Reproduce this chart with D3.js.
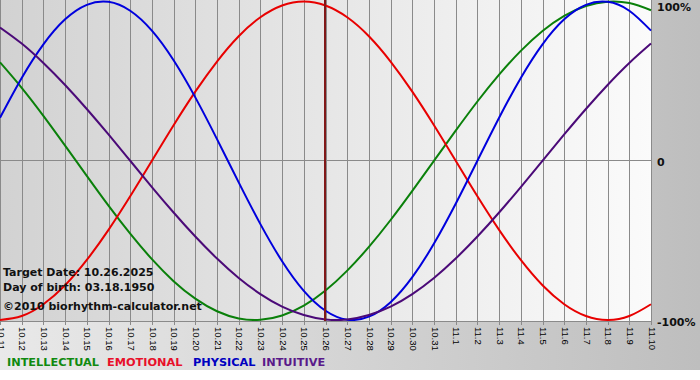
<!DOCTYPE html>
<html><head><meta charset="utf-8">
<script src="https://cdn.jsdelivr.net/npm/d3@7"></script>
<style>html,body{margin:0;padding:0;background:#fff;} svg{display:block;}</style>
</head><body>
<svg id="c" width="700" height="380"></svg>
<script>
// ---- data ----
const dayLabels = ["10.11","10.12","10.13","10.14","10.15","10.16","10.17","10.18","10.19","10.20",
  "10.21","10.22","10.23","10.24","10.25","10.26","10.27","10.28","10.29","10.30","10.31",
  "11.1","11.2","11.3","11.4","11.5","11.6","11.7","11.8","11.9","11.10"];
const intellectual = [0.618,0.458,0.282,0.095,-0.095,-0.282,-0.458,-0.618,-0.756,-0.866,-0.945,-0.990,-0.999,-0.972,-0.910,-0.815,
  -0.690,-0.541,-0.372,-0.189,0.000,0.189,0.372,0.541,0.690,0.815,0.910,0.972,0.999,0.990,0.945];
const emotional = [-1.000,-0.975,-0.901,-0.782,-0.623,-0.434,-0.223,0.000,0.223,0.434,0.623,0.782,0.901,0.975,1.000,0.975,
  0.901,0.782,0.623,0.434,0.223,0.000,-0.223,-0.434,-0.623,-0.782,-0.901,-0.975,-1.000,-0.975,-0.901];
const physical = [0.270,0.520,0.731,0.888,0.979,0.998,0.942,0.817,0.631,0.398,0.136,-0.136,-0.398,-0.631,-0.817,-0.942,
  -0.998,-0.979,-0.888,-0.731,-0.520,-0.270,0.000,0.270,0.520,0.731,0.888,0.979,0.998,0.942,0.817];
const intuitive = [0.837,0.736,0.614,0.476,0.325,0.165,0.000,-0.165,-0.325,-0.476,-0.614,-0.736,-0.837,-0.916,-0.969,-0.997,
  -0.997,-0.969,-0.916,-0.837,-0.736,-0.614,-0.476,-0.325,-0.165,0.000,0.165,0.325,0.476,0.614,0.736];
const yTickValues = [1, 0, -1];
const yTickLabels = ["100%", "0", "-100%"];
const targetDay = "10.26";
const infoLines = ["Target Date: 10.26.2025", "Day of birth: 03.18.1950", "\u00A92010 biorhythm-calculator.net"];
const seriesNames = ["INTELLECTUAL", "EMOTIONAL", "PHYSICAL", "INTUITIVE"];

// ---- styles / layout ----
const seriesData = [intellectual, emotional, physical, intuitive];
const lineColors = ["#0a800a", "#e80000", "#0000dd", "#4b0a78"];
const legendColors = ["#108a10", "#e8102a", "#0000c0", "#5a1a8a"];
const legendX = [7, 107, 193, 262];
const plotW = 651, plotBottom = 321;

const svg = d3.select("#c");
const defs = svg.append("defs");
const g1 = defs.append("linearGradient").attr("id","outerG").attr("x1","0").attr("x2","1").attr("y1","0").attr("y2","0");
g1.append("stop").attr("offset","0%").attr("stop-color","#e9e9e9");
g1.append("stop").attr("offset","100%").attr("stop-color","#bebebe");
const g2 = defs.append("linearGradient").attr("id","plotG").attr("x1","0").attr("x2","1").attr("y1","0").attr("y2","0");
g2.append("stop").attr("offset","0%").attr("stop-color","#d2d2d2");
g2.append("stop").attr("offset","100%").attr("stop-color","#fbfbfb");
defs.append("clipPath").attr("id","clip").append("rect").attr("x",0).attr("y",0).attr("width",plotW+1).attr("height",plotBottom);

svg.append("rect").attr("x",0).attr("y",0).attr("width",700).attr("height",370).attr("fill","url(#outerG)");
svg.append("rect").attr("x",0).attr("y",0).attr("width",plotW+1).attr("height",plotBottom).attr("fill","url(#plotG)");

const x = d3.scalePoint().domain(dayLabels).range([0, plotW]);
const y = d3.scaleLinear().domain([-1, 1]).range([320, 1.5]);
const px = d => Math.round(x(d)) + 0.5;

// vertical grid lines + ticks
svg.append("g").selectAll("line").data(dayLabels).join("line")
  .attr("x1", px).attr("x2", px).attr("y1", 0).attr("y2", 325)
  .attr("stroke", "#8a8a8a").attr("stroke-width", 1);
// zero line and bottom line
svg.append("line").attr("x1",0).attr("x2",plotW+1).attr("y1",Math.round(y(0))-0.5).attr("y2",Math.round(y(0))-0.5)
  .attr("stroke","#8a8a8a");
svg.append("line").attr("x1",0).attr("x2",plotW+1).attr("y1",plotBottom+0.5).attr("y2",plotBottom+0.5)
  .attr("stroke","#8a8a8a");

// x axis labels
const xAxis = d3.axisBottom(x).tickSize(0).tickPadding(0);
const ax = svg.append("g").attr("transform", `translate(0,${plotBottom})`).call(xAxis);
ax.select(".domain").remove();
ax.selectAll(".tick text")
  .attr("transform", "translate(0.5,6) rotate(90)")
  .attr("text-anchor", "start").attr("dy", "0.35em").attr("y", 0).attr("x", 0)
  .attr("font-family", "Liberation Sans, Arial, sans-serif").attr("font-size", 9.5).attr("fill", "#000");

// y labels
const yAxis = d3.axisRight(y).tickValues(yTickValues).tickSize(0).tickPadding(0)
  .tickFormat((d, i) => yTickLabels[i]);
const ay = svg.append("g").attr("transform", `translate(657,0)`).call(yAxis);
ay.select(".domain").remove();
ay.selectAll(".tick text")
  .attr("x", 0).attr("dy", (d) => d === 1 ? "0.85em" : "0.35em")
  .attr("font-family", "DejaVu Sans, Verdana, sans-serif").attr("font-weight", "bold")
  .attr("font-size", 11).attr("fill", "#111");
ay.selectAll(".tick").attr("transform", d => `translate(0,${d === 1 ? 1.5 : (d === 0 ? 162 : 322)})`);

// curves
const line = d3.line().x((d, i) => x(dayLabels[i])).y(d => y(d)).curve(d3.curveNatural);
const curves = svg.append("g").attr("clip-path", "url(#clip)");
seriesData.forEach((s, k) => {
  curves.append("path").datum(s).attr("d", line).attr("fill", "none")
    .attr("stroke", lineColors[k]).attr("stroke-width", 2);
});

// target line
svg.append("line").attr("x1", x(targetDay) - 0.5).attr("x2", x(targetDay) - 0.5)
  .attr("y1", 0).attr("y2", plotBottom).attr("stroke", "#801818").attr("stroke-width", 2);

// info text
const infoY = [276, 291, 310];
svg.append("g").selectAll("text").data(infoLines).join("text")
  .attr("x", 3).attr("y", (d, i) => infoY[i]).text(d => d)
  .attr("font-family", "DejaVu Sans, Verdana, sans-serif").attr("font-weight", "bold")
  .attr("font-size", 11).attr("fill", "#111");

// legend
svg.append("g").selectAll("text").data(seriesNames).join("text")
  .attr("x", (d, i) => legendX[i]).attr("y", 366).text(d => d)
  .attr("font-family", "DejaVu Sans, Verdana, sans-serif").attr("font-weight", "bold")
  .attr("font-size", 11.3).attr("fill", (d, i) => legendColors[i]);
</script>
</body></html>
